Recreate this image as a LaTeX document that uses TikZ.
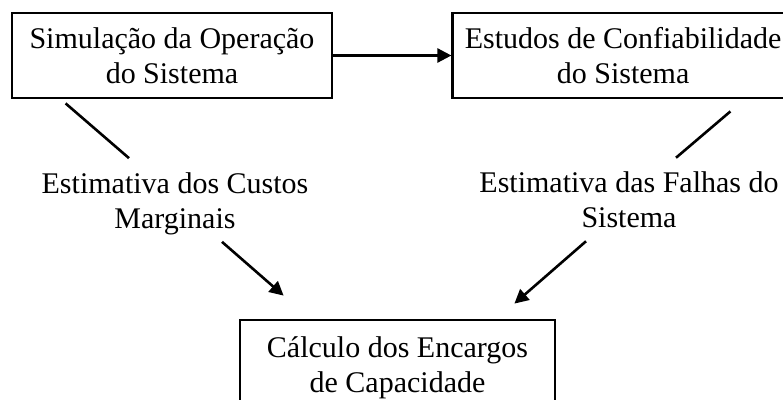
\documentclass[tikz,border=0pt]{standalone}
\usepackage{fontspec}
\setmainfont{Liberation Serif}
\usetikzlibrary{positioning,arrows.meta}

\begin{document}
\begin{tikzpicture}[x=1pt,y=-1pt,
    caixa/.style={draw, line width=2.8pt, align=center, inner xsep=12pt,
        minimum height=85pt, font=\fontsize{30}{35}\selectfont},
    rotulo/.style={align=center, inner sep=0pt, font=\fontsize{30}{35}\selectfont},
    ligacao/.style={line width=2.6pt},
    seta/.style={line width=2.6pt, -{Triangle[length=14pt,width=14pt]}}]
    % Moldura
    \clip (0,0) rectangle (783,399);

    % Caixas
    \node[caixa, minimum width=320pt] (sim) at (172,55.5) {Simulação da Operação\\do Sistema};
    \node[caixa, minimum width=340pt, right=118pt of sim] (conf) {Estudos de Confiabilidade\\do Sistema};
    \node[caixa, minimum width=315pt, minimum height=95pt] (enc) at (397.5,367.5) {Cálculo dos Encargos\\de Capacidade};

    % Estimativas
    \node[rotulo] (custos) at (175,203.5) {Estimativa dos Custos\\Marginais};
    \node[rotulo] (falhas) at (629,200) {Estimativa das Falhas do\\Sistema};

    % Ligações
    \draw[seta] (sim) -- (conf);
    \draw[ligacao] ([xshift=55pt,yshift=-4pt]sim.south west) -- ([xshift=-46pt,yshift=14pt]custos.north);
    \draw[ligacao] ([xshift=279pt,yshift=-12pt]conf.south west) -- ([xshift=47pt,yshift=14pt]falhas.north);
    \draw[seta] ([xshift=47pt,yshift=-7pt]custos.south) -- ([xshift=45pt,yshift=23pt]enc.north west);
    \draw[seta] ([xshift=-43pt,yshift=-13pt]falhas.south) -- ([xshift=-42pt,yshift=15pt]enc.north east);
\end{tikzpicture}
\end{document}
